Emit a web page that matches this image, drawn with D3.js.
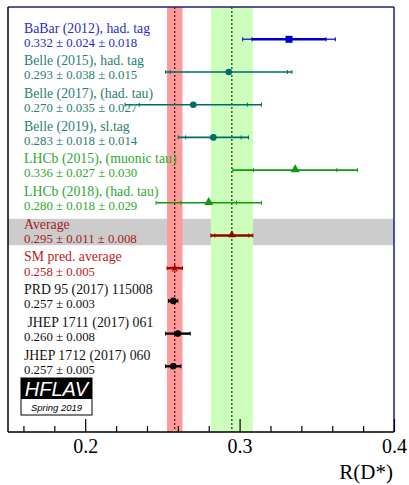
<!DOCTYPE html>
<html>
<head>
<meta charset="utf-8">
<script src="https://cdn.jsdelivr.net/npm/d3@7"></script>
<style>
  body { margin: 0; background: #fff; }
  svg { display: block; }
</style>
</head>
<body>
<div class="chart"></div>
<script>
// measurements, top to bottom
const labels = [
  "BaBar (2012), had. tag",
  "Belle (2015), had. tag",
  "Belle (2017), (had. tau)",
  "Belle (2019), sl.tag",
  "LHCb (2015), (muonic tau)",
  "LHCb (2018), (had. tau)",
  "Average",
  "SM pred. average",
  "PRD 95 (2017) 115008",
  "\u00a0JHEP 1711 (2017) 061",
  "JHEP 1712 (2017) 060"
];
const values  = [0.332, 0.293, 0.270, 0.283, 0.336, 0.280, 0.295, 0.258, 0.257, 0.260, 0.257];
const statErr = [0.024, 0.038, 0.035, 0.018, 0.027, 0.018, 0.011, 0.005, 0.003, 0.008, 0.005];
const systErr = [0.018, 0.015, 0.027, 0.014, 0.030, 0.029, 0.008, 0, 0, 0, 0];
const valueText = [
  "0.332 \u00b1 0.024 \u00b1 0.018",
  "0.293 \u00b1 0.038 \u00b1 0.015",
  "0.270 \u00b1 0.035 \u00b1 0.027",
  "0.283 \u00b1 0.018 \u00b1 0.014",
  "0.336 \u00b1 0.027 \u00b1 0.030",
  "0.280 \u00b1 0.018 \u00b1 0.029",
  "0.295 \u00b1 0.011 \u00b1 0.008",
  "0.258 \u00b1 0.005",
  "0.257 \u00b1 0.003",
  "0.260 \u00b1 0.008",
  "0.257 \u00b1 0.005"
];
const groups = ["babar", "belle", "belle", "belle", "lhcb", "lhcb", "avg", "sm", "theory", "theory", "theory"];
const majorTicks = [0.2, 0.3, 0.4];
const minorTicks = [0.16, 0.18, 0.22, 0.24, 0.26, 0.28, 0.32, 0.34, 0.36, 0.38];
const xDomain = [0.15, 0.4];
const smValue = 0.258, smErr = 0.005;
const avgValue = 0.295, avgStat = 0.011, avgSyst = 0.008;

const style = {
  babar:  {text: "#2a2acc", mark: "#0000cc", shape: "square"},
  belle:  {text: "#2a8075", mark: "#006b6b", shape: "circle"},
  lhcb:   {text: "#2fa82f", mark: "#119911", shape: "triangle"},
  avg:    {text: "#aa1a1a", mark: "#990000", shape: "triangle"},
  sm:     {text: "#bb2222", mark: "#aa0000", shape: "star"},
  theory: {text: "#111111", mark: "#000000", shape: "circle"}
};

const W = 409, H = 485;
const frame = {left: 8, right: 394, top: 7, bottom: 432};

const svg = d3.select(".chart").append("svg")
  .attr("width", W).attr("height", H);

const x = d3.scaleLinear().domain(xDomain).range([frame.left, frame.right]);
const y = d3.scalePoint().domain(d3.range(labels.length)).range([39.3, 366.3]);

const total = (s, t) => Math.sqrt(s * s + t * t);

// grey band behind the average row
svg.append("rect")
  .attr("x", frame.left).attr("width", frame.right - frame.left)
  .attr("y", y(6) - 16.7).attr("height", 26.4)
  .attr("fill", "#cccccc");

// SM band and average band
const avgTot = total(avgStat, avgSyst);
svg.append("rect")
  .attr("x", x(smValue - smErr)).attr("width", x(smValue + smErr) - x(smValue - smErr))
  .attr("y", frame.top).attr("height", frame.bottom - frame.top)
  .attr("fill", "#ff9a9a");
svg.append("rect")
  .attr("x", x(avgValue - avgTot)).attr("width", x(avgValue + avgTot) - x(avgValue - avgTot))
  .attr("y", frame.top).attr("height", frame.bottom - frame.top)
  .attr("fill", "#ccffbb");

[smValue, avgValue].forEach(function(v) {
  svg.append("line")
    .attr("x1", x(v)).attr("x2", x(v))
    .attr("y1", frame.top).attr("y2", frame.bottom)
    .attr("stroke", "#000").attr("stroke-width", 1)
    .attr("stroke-dasharray", "2,2");
});

// frame
svg.append("line").attr("x1", frame.left).attr("x2", frame.right)
  .attr("y1", frame.top).attr("y2", frame.top)
  .attr("stroke", "#22226e").attr("stroke-width", 1.5);
svg.append("line").attr("x1", frame.right).attr("x2", frame.right)
  .attr("y1", frame.top).attr("y2", frame.bottom)
  .attr("stroke", "#1a1a9a").attr("stroke-width", 1.5);
svg.append("line").attr("x1", frame.left).attr("x2", frame.left)
  .attr("y1", frame.top).attr("y2", frame.bottom)
  .attr("stroke", "#000").attr("stroke-width", 1.5);

// x axis, ticks pointing inwards
const axisG = svg.append("g").attr("transform", "translate(0," + frame.bottom + ")");
axisG.call(d3.axisBottom(x).tickValues(minorTicks).tickSize(-6).tickFormat(""));
axisG.call(g => g.select(".domain").remove());
const majorG = svg.append("g").attr("transform", "translate(0," + frame.bottom + ")");
majorG.call(d3.axisBottom(x).tickValues(majorTicks).tickSize(-13).tickPadding(7)
  .tickFormat(d3.format(".1f")));
svg.selectAll(".tick line").attr("stroke", "#000").attr("stroke-width", 1.2);
majorG.select(".domain").attr("stroke", "#000").attr("stroke-width", 1.5)
  .attr("d", "M" + frame.left + ",0H" + frame.right);
majorG.selectAll(".tick text")
  .attr("font-family", "'Liberation Serif', 'Times New Roman', serif")
  .attr("font-size", 20).attr("fill", "#000");

svg.append("text")
  .attr("x", 393).attr("y", 479)
  .attr("text-anchor", "end")
  .attr("font-family", "'Liberation Serif', 'Times New Roman', serif")
  .attr("font-size", 21)
  .text("R(D*)");

// error bars
const rows = labels.map(function(l, i) {
  return {i: i, v: values[i], s: statErr[i], t: total(statErr[i], systErr[i]), g: groups[i]};
});

const bars = svg.append("g");
rows.forEach(function(d) {
  const c = style[d.g].mark;
  const yy = y(d.i);
  const thick = (d.g === "avg" || d.g === "sm" || d.g === "theory") ? 2.4 : 1.6;
  bars.append("line")
    .attr("x1", x(d.v - d.t)).attr("x2", x(d.v + d.t))
    .attr("y1", yy).attr("y2", yy)
    .attr("stroke", c).attr("stroke-width", d.g === "babar" ? 1.4 : thick)
    .attr("stroke-opacity", d.g === "babar" ? 0.8 : 1);
  if (d.g === "babar") {
    bars.append("line")
      .attr("x1", x(d.v - d.s)).attr("x2", x(d.v + d.s))
      .attr("y1", yy).attr("y2", yy)
      .attr("stroke", c).attr("stroke-width", 2.4);
  }
  const ends = d.t > d.s ? [d.v - d.t, d.v - d.s, d.v + d.s, d.v + d.t] : [d.v - d.s, d.v + d.s];
  ends.forEach(function(e) {
    bars.append("line")
      .attr("x1", x(e)).attr("x2", x(e))
      .attr("y1", yy - 2).attr("y2", yy + 2)
      .attr("stroke", c).attr("stroke-width", 1);
  });
});

// markers
const marks = svg.append("g");
rows.forEach(function(d) {
  const st = style[d.g];
  const cx = x(d.v), cy = y(d.i);
  if (st.shape === "square") {
    marks.append("rect").attr("x", cx - 3.5).attr("y", cy - 3.5)
      .attr("width", 7).attr("height", 7).attr("fill", st.mark);
  } else if (st.shape === "circle") {
    marks.append("circle").attr("cx", cx).attr("cy", cy).attr("r", 3.3).attr("fill", st.mark);
  } else if (st.shape === "triangle") {
    const s = d.g === "avg" ? 28 : 36;
    marks.append("path").attr("transform", "translate(" + cx + "," + (cy - 0.5) + ")")
      .attr("d", d3.symbol(d3.symbolTriangle, s)).attr("fill", st.mark);
  } else {
    marks.append("path").attr("transform", "translate(" + cx + "," + cy + ")")
      .attr("d", d3.symbol(d3.symbolStar, 26)).attr("fill", st.mark);
  }
});

// labels
const textG = svg.append("g")
  .attr("font-family", "'Liberation Serif', 'Times New Roman', serif");
rows.forEach(function(d) {
  const col = style[d.g].text;
  const yy = y(d.i);
  textG.append("text").attr("x", 24).attr("y", yy - 6.8)
    .attr("font-size", 13.8).attr("fill", col).text(labels[d.i]);
  textG.append("text").attr("x", 24).attr("y", yy + 7.3)
    .attr("font-size", 12.8).attr("fill", col).text(valueText[d.i]);
});

// HFLAV logo
const logo = svg.append("g").attr("transform", "translate(21,378)");
logo.append("rect").attr("width", 71).attr("height", 37)
  .attr("fill", "#fff").attr("stroke", "#000").attr("stroke-width", 1);
logo.append("rect").attr("width", 71).attr("height", 21).attr("fill", "#000");
logo.append("text").attr("x", 35.5).attr("y", 18)
  .attr("text-anchor", "middle")
  .attr("font-family", "'Liberation Sans', Arial, sans-serif")
  .attr("font-style", "italic").attr("font-size", 20).attr("fill", "#fff")
  .text("HFLAV");
logo.append("text").attr("x", 35.5).attr("y", 33)
  .attr("text-anchor", "middle")
  .attr("font-family", "'Liberation Sans', Arial, sans-serif")
  .attr("font-style", "italic").attr("font-size", 9.5).attr("fill", "#000")
  .text("Spring 2019");
</script>
</body>
</html>
